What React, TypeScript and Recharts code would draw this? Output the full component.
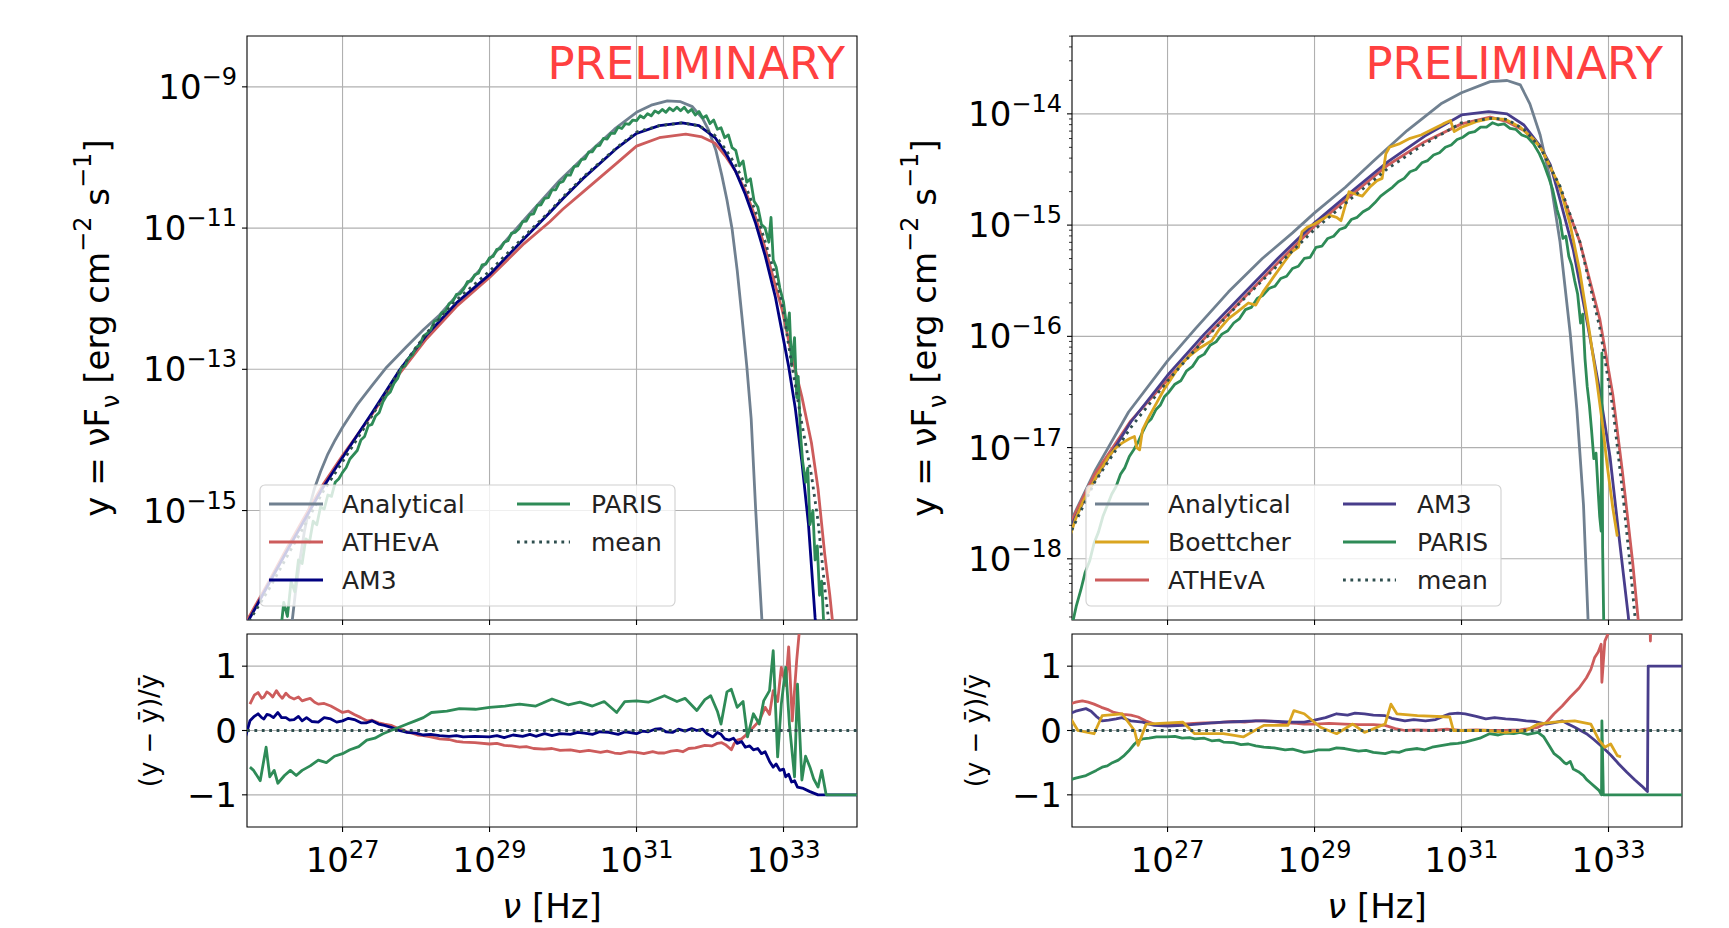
import React from "react";
import { LineChart, Line, XAxis, YAxis, CartesianGrid, ReferenceArea } from "recharts";

// ---- axes (log10 of the plotted quantities) ----
const X_DOMAIN = [25.7, 34.0];
const X_TICKS = [27, 29, 31, 33];
const LEFT_Y_DOMAIN = [-16.55, -8.28];
const LEFT_Y_TICKS = [-15, -13, -11, -9];
const RIGHT_Y_DOMAIN = [-18.55, -13.3];
const RIGHT_Y_MAJOR = [-18, -17, -16, -15, -14];
const RES_DOMAIN = [-1.5, 1.5];
const RES_TICKS = [-1, 0, 1];

// ---- left SED: log10 nu / log10 nuFnu ----
const L_ANA_NU = [26.3, 26.36, 26.42, 26.48, 26.55, 26.62, 26.7, 26.8, 26.9, 27.0, 27.2, 27.4, 27.6, 27.86, 28.1, 28.32, 28.6, 29.0, 29.5, 29.95, 30.3, 30.7, 31.0, 31.2, 31.42, 31.6, 31.76, 31.9, 31.98, 32.08, 32.16, 32.23, 32.3, 32.37, 32.44, 32.5, 32.56, 32.62, 32.67, 32.72];
const L_ANA_Y = [-16.7, -16.15, -15.7, -15.3, -14.95, -14.68, -14.45, -14.2, -14.0, -13.82, -13.5, -13.23, -12.97, -12.69, -12.44, -12.23, -11.9, -11.44, -10.85, -10.33, -9.98, -9.6, -9.36, -9.26, -9.2, -9.21, -9.28, -9.45, -9.61, -9.9, -10.25, -10.6, -11.01, -11.6, -12.31, -12.95, -13.7, -14.96, -15.9, -16.8];

const L_ATH_NU = [25.6, 25.72, 26.0, 26.25, 26.5, 26.73, 27.0, 27.4, 27.77, 28.14, 28.55, 29.0, 29.47, 29.82, 30.0, 30.27, 30.72, 31.0, 31.31, 31.67, 31.89, 32.07, 32.21, 32.35, 32.48, 32.62, 32.75, 32.89, 32.98, 33.11, 33.25, 33.38, 33.47, 33.56, 33.63, 33.7];
const L_ATH_Y = [-16.75, -16.52, -16.0, -15.52, -15.06, -14.64, -14.22, -13.64, -13.07, -12.57, -12.11, -11.7, -11.22, -10.91, -10.73, -10.49, -10.09, -9.84, -9.72, -9.67, -9.71, -9.8, -9.98, -10.2, -10.47, -10.85, -11.28, -11.82, -12.15, -12.79, -13.39, -14.04, -14.69, -15.61, -16.2, -16.9];

const L_AM3_NU = [25.6, 25.74, 26.0, 26.25, 26.5, 26.73, 27.0, 27.4, 27.77, 28.14, 28.55, 29.0, 29.47, 29.82, 30.0, 30.27, 30.72, 31.0, 31.31, 31.62, 31.85, 32.07, 32.21, 32.35, 32.48, 32.62, 32.75, 32.89, 32.98, 33.07, 33.16, 33.25, 33.34, 33.43, 33.48];
const L_AM3_Y = [-16.8, -16.52, -16.03, -15.56, -15.1, -14.68, -14.25, -13.62, -13.02, -12.52, -12.06, -11.66, -11.15, -10.78, -10.58, -10.3, -9.88, -9.66, -9.55, -9.51, -9.55, -9.72, -9.93, -10.2, -10.52, -10.93, -11.39, -11.98, -12.47, -12.96, -13.55, -14.31, -15.2, -16.52, -17.0];

const L_PARIS_NU = [26.15, 26.2, 26.25, 26.3, 26.35, 26.4, 26.45, 26.5, 26.55, 26.6, 26.65, 26.7, 26.75, 26.8, 26.85, 26.9, 26.95, 27.0, 27.05, 27.1, 27.15, 27.2, 27.25, 27.3, 27.35, 27.4, 27.45, 27.5, 27.55, 27.6, 27.65, 27.7, 27.75, 27.8, 27.85, 27.9, 27.95, 28.0, 28.05, 28.1, 28.15, 28.2, 28.25, 28.3, 28.35, 28.4, 28.45, 28.5, 28.55, 28.6, 28.65, 28.7, 28.75, 28.8, 28.85, 28.9, 28.95, 29.0, 29.05, 29.1, 29.15, 29.2, 29.25, 29.3, 29.35, 29.4, 29.45, 29.5, 29.55, 29.6, 29.65, 29.7, 29.75, 29.8, 29.85, 29.9, 29.95, 30.0, 30.05, 30.1, 30.15, 30.2, 30.25, 30.3, 30.35, 30.4, 30.45, 30.5, 30.55, 30.6, 30.65, 30.7, 30.75, 30.8, 30.85, 30.9, 30.95, 31.0, 31.05, 31.1, 31.15, 31.2, 31.25, 31.3, 31.35, 31.4, 31.45, 31.5, 31.55, 31.6, 31.65, 31.7, 31.75, 31.8, 31.85, 31.9, 31.95, 32.0, 32.05, 32.1, 32.15, 32.2, 32.25, 32.3, 32.35, 32.4, 32.45, 32.5, 32.55, 32.6, 32.65, 32.7, 32.75, 32.8, 32.83, 32.86, 32.9, 32.95, 33.0, 33.05, 33.08, 33.11, 33.15, 33.18, 33.2, 33.23, 33.26, 33.3, 33.33, 33.36, 33.4, 33.43, 33.46, 33.49, 33.52, 33.56];
const L_PARIS_Y = [-16.8, -16.3, -16.5, -16.0, -16.15, -15.7, -15.75, -15.4, -15.45, -15.15, -15.2, -14.95, -14.98, -14.78, -14.8, -14.6, -14.55, -14.46, -14.39, -14.27, -14.21, -14.15, -14.0, -13.95, -13.8, -13.78, -13.66, -13.61, -13.46, -13.37, -13.32, -13.2, -13.13, -12.98, -12.95, -12.84, -12.8, -12.69, -12.66, -12.53, -12.49, -12.44, -12.32, -12.3, -12.2, -12.18, -12.07, -12.04, -11.94, -11.93, -11.86, -11.76, -11.75, -11.66, -11.64, -11.52, -11.51, -11.42, -11.4, -11.3, -11.29, -11.2, -11.18, -11.07, -11.06, -11.01, -10.91, -10.9, -10.81, -10.8, -10.68, -10.67, -10.58, -10.57, -10.46, -10.46, -10.36, -10.34, -10.25, -10.25, -10.13, -10.12, -10.03, -10.02, -9.92, -9.92, -9.84, -9.83, -9.73, -9.74, -9.66, -9.66, -9.57, -9.59, -9.52, -9.53, -9.47, -9.48, -9.41, -9.44, -9.38, -9.41, -9.34, -9.37, -9.32, -9.36, -9.3, -9.34, -9.29, -9.34, -9.29, -9.36, -9.32, -9.4, -9.35, -9.44, -9.41, -9.52, -9.47, -9.6, -9.58, -9.72, -9.68, -9.86, -9.9, -10.12, -10.05, -10.35, -10.3, -10.62, -10.7, -10.95, -11.0, -11.2, -10.85, -11.45, -11.55, -11.85, -12.05, -12.45, -12.2, -12.95, -12.55, -13.4, -13.1, -13.9, -14.3, -14.6, -14.4, -15.2, -15.0, -15.7, -15.5, -16.2, -16.0, -16.9];

const L_MEAN_NU = [25.6, 25.72, 26.0, 26.25, 26.5, 26.73, 27.0, 27.4, 27.77, 28.14, 28.55, 29.0, 29.47, 29.82, 30.0, 30.27, 30.72, 31.0, 31.31, 31.62, 31.85, 32.07, 32.21, 32.35, 32.48, 32.62, 32.75, 32.89, 32.98, 33.11, 33.25, 33.38, 33.47, 33.56, 33.62, 33.66];
const L_MEAN_Y = [-16.85, -16.58, -16.11, -15.64, -15.18, -14.74, -14.31, -13.66, -13.02, -12.49, -12.02, -11.61, -11.12, -10.76, -10.56, -10.28, -9.87, -9.64, -9.55, -9.51, -9.55, -9.69, -9.88, -10.11, -10.39, -10.77, -11.19, -11.68, -12.07, -12.92, -13.77, -14.5, -15.15, -16.08, -16.6, -17.0];

// ---- right SED ----
const R_ANA_NU = [25.6, 25.67, 26.02, 26.47, 27.0, 27.38, 27.83, 28.29, 28.7, 29.0, 29.42, 29.81, 30.26, 30.72, 31.0, 31.39, 31.62, 31.8, 31.93, 32.07, 32.21, 32.34, 32.48, 32.57, 32.66, 32.72, 32.76];
const R_ANA_Y = [-17.95, -17.68, -17.2, -16.68, -16.22, -15.93, -15.6, -15.3, -15.07, -14.89, -14.66, -14.42, -14.15, -13.91, -13.81, -13.71, -13.7, -13.74, -13.91, -14.19, -14.6, -15.15, -15.98, -16.66, -17.52, -18.52, -19.2];

const R_BOE_NU = [25.67, 25.75, 25.84, 25.95, 26.05, 26.11, 26.2, 26.3, 26.38, 26.48, 26.55, 26.58, 26.62, 26.66, 26.75, 26.85, 26.95, 27.05, 27.15, 27.29, 27.45, 27.6, 27.7, 27.83, 27.95, 28.1, 28.2, 28.3, 28.46, 28.6, 28.69, 28.78, 28.83, 28.9, 29.0, 29.1, 29.2, 29.3, 29.36, 29.42, 29.47, 29.55, 29.65, 29.75, 29.85, 29.92, 29.97, 30.02, 30.15, 30.3, 30.45, 30.6, 30.75, 30.85, 30.9, 31.0, 31.2, 31.4, 31.6, 31.8, 32.0, 32.1, 32.21, 32.34, 32.48, 32.61, 32.75, 32.84, 32.92, 32.98, 33.06, 33.12];
const R_BOE_Y = [-17.8, -17.64, -17.5, -17.36, -17.24, -17.18, -17.08, -17.0, -16.96, -16.92, -16.9, -17.0, -17.02, -16.84, -16.72, -16.6, -16.48, -16.38, -16.28, -16.18, -16.1, -16.04, -15.94, -15.84, -15.78, -15.7, -15.72, -15.6, -15.45, -15.32, -15.24, -15.2, -15.06, -15.02, -14.99, -14.95, -14.91, -14.93, -14.96, -14.82, -14.7, -14.72, -14.74, -14.66, -14.6, -14.58, -14.36, -14.3, -14.27, -14.22, -14.19, -14.14, -14.09, -14.06, -14.16, -14.12, -14.07, -14.04, -14.05, -14.12, -14.24, -14.33, -14.48, -14.66, -15.0, -15.42, -16.0, -16.4, -16.8, -17.15, -17.55, -17.8];

const R_ATH_NU = [25.6, 25.67, 26.0, 26.5, 27.0, 27.5, 28.0, 28.5, 29.0, 29.5, 30.0, 30.5, 31.0, 31.39, 31.62, 31.85, 32.07, 32.34, 32.61, 32.88, 33.06, 33.19, 33.33, 33.4, 33.45];
const R_ATH_Y = [-17.9, -17.69, -17.25, -16.76, -16.39, -16.02, -15.68, -15.34, -15.01, -14.73, -14.46, -14.25, -14.09, -14.03, -14.07, -14.15, -14.29, -14.67, -15.15, -15.84, -16.53, -17.22, -18.04, -18.52, -18.9];

const R_AM3_NU = [25.6, 25.67, 26.0, 26.5, 27.0, 27.5, 28.0, 28.5, 29.0, 29.5, 30.0, 30.5, 31.0, 31.37, 31.62, 31.85, 32.07, 32.21, 32.34, 32.52, 32.7, 32.88, 33.02, 33.15, 33.27, 33.32];
const R_AM3_Y = [-17.95, -17.73, -17.3, -16.77, -16.35, -15.98, -15.64, -15.3, -14.98, -14.7, -14.43, -14.2, -14.01, -13.98, -14.0, -14.1, -14.29, -14.46, -14.77, -15.22, -15.84, -16.49, -17.08, -17.84, -18.52, -18.9];

const R_PARIS_NU = [25.7, 25.76, 25.82, 25.88, 25.94, 26.0, 26.06, 26.12, 26.18, 26.24, 26.3, 26.36, 26.42, 26.48, 26.54, 26.6, 26.66, 26.72, 26.78, 26.84, 26.9, 26.96, 27.02, 27.1, 27.18, 27.26, 27.34, 27.42, 27.5, 27.58, 27.66, 27.74, 27.82, 27.9, 27.98, 28.06, 28.14, 28.22, 28.3, 28.38, 28.46, 28.54, 28.62, 28.7, 28.78, 28.86, 28.94, 29.02, 29.1, 29.18, 29.26, 29.34, 29.42, 29.5, 29.58, 29.66, 29.74, 29.82, 29.9, 29.98, 30.06, 30.14, 30.22, 30.3, 30.38, 30.46, 30.54, 30.62, 30.7, 30.78, 30.86, 30.94, 31.02, 31.1, 31.18, 31.26, 31.34, 31.42, 31.5, 31.58, 31.66, 31.74, 31.82, 31.9, 31.98, 32.06, 32.12, 32.18, 32.24, 32.3, 32.34, 32.38, 32.42, 32.46, 32.5, 32.54, 32.58, 32.62, 32.65, 32.68, 32.71, 32.74, 32.77, 32.8, 32.83, 32.86, 32.88, 32.9, 32.91, 32.92, 32.94];
const R_PARIS_Y = [-18.6, -18.42, -18.28, -18.12, -18.02, -17.86, -17.76, -17.62, -17.52, -17.42, -17.35, -17.24, -17.18, -17.08, -17.02, -16.95, -16.86, -16.78, -16.74, -16.66, -16.62, -16.54, -16.5, -16.43, -16.4, -16.31, -16.27, -16.19, -16.16, -16.08, -16.05, -15.98, -15.95, -15.88, -15.84, -15.76, -15.74, -15.66, -15.63, -15.57, -15.55, -15.48, -15.46, -15.39, -15.37, -15.3, -15.29, -15.2, -15.19, -15.12, -15.1, -15.04, -15.02, -14.95, -14.93, -14.88, -14.85, -14.8, -14.74, -14.7, -14.66, -14.61, -14.58, -14.52, -14.5, -14.44, -14.42, -14.37, -14.35, -14.3, -14.28, -14.23, -14.21, -14.17, -14.16, -14.12, -14.12, -14.08, -14.1, -14.09, -14.13, -14.14, -14.19, -14.21, -14.27, -14.36, -14.45, -14.56, -14.68, -14.86, -14.95, -15.12, -15.1, -15.28, -15.36, -15.5, -15.62, -15.88, -15.8, -16.2, -16.45, -16.62, -16.85, -17.1, -17.05, -17.4, -17.62, -17.75, -16.15, -17.9, -18.8];

const R_MEAN_NU = [25.6, 25.67, 26.0, 26.5, 27.0, 27.5, 28.0, 28.5, 29.0, 29.5, 30.0, 30.5, 31.0, 31.4, 31.62, 31.85, 32.07, 32.34, 32.61, 32.88, 33.06, 33.2, 33.3, 33.36, 33.42];
const R_MEAN_Y = [-18.0, -17.78, -17.32, -16.82, -16.4, -16.03, -15.69, -15.36, -15.04, -14.76, -14.49, -14.27, -14.08, -14.04, -14.05, -14.14, -14.3, -14.65, -15.15, -15.92, -16.65, -17.45, -18.1, -18.52, -18.9];

// ---- left residuals (y - mean)/mean ----
const LR_ATH_NU = [25.74, 25.8, 25.85, 25.9, 25.93, 25.97, 26.01, 26.05, 26.1, 26.14, 26.18, 26.23, 26.28, 26.34, 26.4, 26.45, 26.5, 26.56, 26.62, 26.67, 26.75, 26.84, 26.92, 27.0, 27.08, 27.16, 27.25, 27.33, 27.4, 27.49, 27.57, 27.66, 27.72, 27.77, 27.83, 27.88, 27.95, 28.02, 28.1, 28.2, 28.32, 28.45, 28.55, 28.64, 28.8, 29.0, 29.1, 29.2, 29.3, 29.41, 29.5, 29.6, 29.74, 29.85, 29.96, 30.1, 30.23, 30.35, 30.51, 30.6, 30.7, 30.78, 30.9, 31.0, 31.1, 31.22, 31.3, 31.38, 31.47, 31.55, 31.63, 31.71, 31.8, 31.93, 32.02, 32.1, 32.16, 32.21, 32.29, 32.33, 32.37, 32.43, 32.48, 32.59, 32.67, 32.75, 32.81, 32.86, 32.92, 32.97, 33.03, 33.07, 33.12, 33.18, 33.22, 33.27, 33.36];
const LR_ATH_Y = [0.41, 0.55, 0.59, 0.5, 0.52, 0.6, 0.57, 0.52, 0.62, 0.55, 0.5, 0.58, 0.52, 0.49, 0.52, 0.46, 0.48, 0.5, 0.44, 0.41, 0.42, 0.38, 0.33, 0.28, 0.3, 0.25, 0.2, 0.15, 0.16, 0.12, 0.1, 0.08, 0.05, 0.02, 0.01, -0.03, -0.04, -0.07, -0.08, -0.1, -0.13, -0.14, -0.17, -0.18, -0.19, -0.21, -0.2, -0.23, -0.24, -0.26, -0.25, -0.28, -0.29, -0.28, -0.31, -0.3, -0.33, -0.31, -0.34, -0.32, -0.35, -0.36, -0.33, -0.34, -0.36, -0.33, -0.35, -0.35, -0.32, -0.31, -0.33, -0.28, -0.27, -0.23, -0.24, -0.2, -0.19, -0.22, -0.3, -0.2, -0.15, -0.13, -0.08, 0.05, 0.15, 0.36, 0.25, 0.62, 0.45, 0.98, 0.7, 1.3, 0.15, 1.1, 1.6, 2.0, 2.5];

const LR_AM3_NU = [25.68, 25.74, 25.8, 25.85, 25.9, 25.93, 25.97, 26.01, 26.06, 26.12, 26.17, 26.23, 26.28, 26.34, 26.4, 26.45, 26.51, 26.58, 26.67, 26.75, 26.84, 26.92, 27.0, 27.08, 27.16, 27.25, 27.33, 27.4, 27.49, 27.57, 27.66, 27.77, 27.88, 28.0, 28.1, 28.2, 28.32, 28.45, 28.55, 28.64, 28.8, 29.0, 29.1, 29.2, 29.32, 29.45, 29.55, 29.63, 29.75, 29.85, 29.96, 30.1, 30.2, 30.29, 30.4, 30.5, 30.62, 30.75, 30.85, 31.0, 31.08, 31.16, 31.25, 31.33, 31.4, 31.49, 31.57, 31.66, 31.75, 31.82, 31.9, 31.96, 32.04, 32.1, 32.15, 32.2, 32.26, 32.32, 32.37, 32.43, 32.48, 32.54, 32.59, 32.65, 32.7, 32.75, 32.81, 32.86, 32.9, 32.95, 33.0, 33.03, 33.07, 33.11, 33.15, 33.19, 33.27, 33.36, 33.47, 34.0];
const LR_AM3_Y = [-0.1, 0.15, 0.22, 0.26, 0.2, 0.18, 0.25, 0.24, 0.2, 0.28, 0.2, 0.2, 0.16, 0.17, 0.22, 0.15, 0.2, 0.14, 0.13, 0.2, 0.18, 0.13, 0.15, 0.19, 0.17, 0.12, 0.12, 0.15, 0.1, 0.08, 0.05, 0.0, -0.03, -0.04, -0.07, -0.06, -0.08, -0.09, -0.08, -0.1, -0.09, -0.1, -0.08, -0.11, -0.07, -0.09, -0.06, -0.09, -0.05, -0.08, -0.05, -0.06, -0.03, -0.04, -0.06, -0.02, -0.03, -0.06, -0.02, -0.05, -0.01, -0.02, 0.02, 0.03, -0.02, -0.03, 0.02, -0.01, 0.03, 0.0, 0.02, -0.05, -0.1, -0.03, -0.06, -0.13, -0.15, -0.12, -0.2, -0.17, -0.26, -0.24, -0.3, -0.28, -0.36, -0.33, -0.48, -0.57, -0.52, -0.62, -0.6, -0.72, -0.68, -0.8, -0.78, -0.88, -0.9, -0.95, -1.0, -1.0];

const LR_PARIS_NU = [25.74, 25.79, 25.88, 25.96, 26.01, 26.07, 26.12, 26.21, 26.29, 26.37, 26.45, 26.56, 26.67, 26.78, 26.89, 27.0, 27.1, 27.22, 27.33, 27.44, 27.55, 27.66, 27.77, 27.88, 27.99, 28.1, 28.21, 28.42, 28.59, 28.81, 29.0, 29.21, 29.41, 29.63, 29.85, 30.07, 30.23, 30.4, 30.56, 30.73, 30.84, 31.0, 31.16, 31.38, 31.55, 31.66, 31.82, 31.93, 32.01, 32.1, 32.15, 32.23, 32.29, 32.37, 32.45, 32.51, 32.59, 32.67, 32.73, 32.81, 32.86, 32.92, 32.97, 33.03, 33.08, 33.15, 33.19, 33.25, 33.3, 33.36, 33.41, 33.47, 33.52, 33.58, 34.0];
const LR_PARIS_Y = [-0.57, -0.62, -0.78, -0.26, -0.72, -0.62, -0.82, -0.7, -0.62, -0.7, -0.62, -0.55, -0.46, -0.5, -0.4, -0.36, -0.3, -0.25, -0.15, -0.12, -0.05, 0.0, 0.05, 0.1, 0.15, 0.2, 0.28, 0.3, 0.34, 0.33, 0.36, 0.38, 0.41, 0.38, 0.49, 0.4, 0.44, 0.38, 0.45, 0.28, 0.45, 0.46, 0.44, 0.54, 0.45, 0.5, 0.31, 0.48, 0.54, 0.3, 0.1, 0.6, 0.64, 0.36, 0.45, -0.1, 0.26, 0.1, 0.46, 0.62, 1.24, -0.41, 0.41, 0.98, 0.1, -0.72, 0.72, -0.77, -0.4, -0.57, -0.75, -0.88, -0.62, -1.0, -1.0];

// ---- right residuals ----
const RR_ATH_NU = [25.67, 25.75, 25.84, 25.92, 26.0, 26.1, 26.2, 26.27, 26.4, 26.5, 26.6, 26.7, 26.82, 26.95, 27.1, 27.21, 27.35, 27.5, 27.65, 27.76, 27.9, 28.05, 28.2, 28.31, 28.45, 28.6, 28.75, 28.86, 29.0, 29.2, 29.41, 29.6, 29.8, 29.96, 30.1, 30.23, 30.4, 30.6, 30.8, 31.0, 31.2, 31.4, 31.6, 31.8, 32.04, 32.15, 32.26, 32.37, 32.48, 32.6, 32.7, 32.76, 32.81, 32.86, 32.9, 32.91, 32.95, 33.03, 33.14, 33.55, 33.57, 33.59];
const RR_ATH_Y = [0.41, 0.44, 0.46, 0.44, 0.41, 0.36, 0.32, 0.28, 0.25, 0.24, 0.21, 0.15, 0.1, 0.09, 0.1, 0.1, 0.11, 0.12, 0.12, 0.13, 0.14, 0.13, 0.15, 0.15, 0.14, 0.12, 0.11, 0.1, 0.1, 0.11, 0.1, 0.09, 0.09, 0.08, 0.03, 0.0, 0.01, 0.0, 0.02, 0.0, 0.01, 0.0, 0.0, 0.01, 0.05, 0.12, 0.26, 0.38, 0.52, 0.66, 0.82, 0.95, 1.13, 1.22, 1.34, 0.75, 1.39, 1.6, 2.2, 2.5, 1.39, 2.5];

const RR_BOE_NU = [25.67, 25.78, 26.0, 26.11, 26.38, 26.55, 26.6, 26.71, 27.21, 27.37, 27.76, 28.03, 28.31, 28.64, 28.72, 28.86, 29.08, 29.3, 29.52, 29.68, 29.96, 30.04, 30.12, 30.4, 30.84, 30.89, 31.33, 31.6, 31.88, 32.04, 32.26, 32.54, 32.76, 32.87, 32.95, 33.03, 33.12, 33.17];
const RR_BOE_Y = [0.21, 0.0, -0.05, 0.23, 0.26, 0.0, -0.23, 0.1, 0.13, -0.05, -0.05, -0.1, 0.08, 0.08, 0.31, 0.26, 0.05, -0.05, 0.1, -0.03, 0.1, 0.41, 0.26, 0.23, 0.21, 0.0, 0.0, -0.03, 0.0, 0.1, 0.13, 0.15, 0.1, -0.15, -0.26, -0.21, -0.39, -0.41];

const RR_AM3_NU = [25.67, 25.75, 25.82, 25.89, 25.96, 26.03, 26.11, 26.2, 26.3, 26.38, 26.5, 26.66, 26.75, 26.82, 27.0, 27.21, 27.4, 27.6, 27.76, 28.0, 28.2, 28.31, 28.5, 28.7, 28.86, 29.0, 29.15, 29.3, 29.45, 29.55, 29.68, 29.8, 29.96, 30.05, 30.23, 30.35, 30.51, 30.65, 30.75, 30.84, 30.95, 31.05, 31.2, 31.33, 31.45, 31.6, 31.75, 31.88, 32.0, 32.15, 32.25, 32.37, 32.45, 32.54, 32.62, 32.7, 32.8, 32.92, 33.03, 33.14, 33.25, 33.36, 33.45, 33.53, 33.54, 34.0];
const RR_AM3_Y = [0.26, 0.3, 0.32, 0.34, 0.3, 0.22, 0.15, 0.16, 0.18, 0.2, 0.15, 0.13, 0.1, 0.08, 0.07, 0.08, 0.1, 0.12, 0.13, 0.14, 0.15, 0.15, 0.14, 0.13, 0.13, 0.16, 0.2, 0.26, 0.24, 0.27, 0.26, 0.24, 0.23, 0.19, 0.15, 0.17, 0.15, 0.17, 0.22, 0.26, 0.27, 0.26, 0.22, 0.18, 0.2, 0.18, 0.17, 0.15, 0.14, 0.1, 0.12, 0.15, 0.1, 0.05, 0.0, -0.05, -0.14, -0.26, -0.38, -0.52, -0.65, -0.77, -0.86, -0.95, 1.0, 1.0];

const RR_PARIS_NU = [25.67, 25.75, 25.82, 25.89, 25.96, 26.03, 26.11, 26.18, 26.25, 26.33, 26.4, 26.47, 26.55, 26.6, 26.66, 26.75, 26.85, 26.99, 27.1, 27.2, 27.3, 27.37, 27.5, 27.6, 27.7, 27.76, 27.9, 28.0, 28.1, 28.2, 28.31, 28.45, 28.6, 28.7, 28.86, 28.95, 29.05, 29.2, 29.3, 29.41, 29.5, 29.6, 29.7, 29.8, 29.96, 30.05, 30.15, 30.25, 30.4, 30.5, 30.6, 30.7, 30.84, 30.95, 31.05, 31.15, 31.25, 31.38, 31.5, 31.6, 31.71, 31.8, 31.9, 32.04, 32.12, 32.2, 32.26, 32.33, 32.4, 32.43, 32.48, 32.52, 32.59, 32.66, 32.7, 32.76, 32.82, 32.87, 32.905, 32.91, 32.93, 34.0];
const RR_PARIS_Y = [-0.77, -0.74, -0.72, -0.7, -0.66, -0.62, -0.57, -0.55, -0.5, -0.46, -0.4, -0.32, -0.21, -0.16, -0.13, -0.12, -0.1, -0.1, -0.09, -0.12, -0.11, -0.13, -0.12, -0.16, -0.15, -0.18, -0.19, -0.22, -0.21, -0.24, -0.26, -0.27, -0.3, -0.29, -0.34, -0.33, -0.3, -0.3, -0.27, -0.28, -0.3, -0.32, -0.31, -0.34, -0.36, -0.33, -0.34, -0.3, -0.28, -0.3, -0.26, -0.24, -0.21, -0.2, -0.18, -0.15, -0.12, -0.05, -0.07, -0.04, -0.05, -0.03, -0.06, -0.03, -0.1, -0.25, -0.36, -0.42, -0.5, -0.52, -0.48, -0.6, -0.64, -0.7, -0.76, -0.82, -0.88, -0.93, -1.0, 0.15, -1.0, -1.0];

const RES_MEAN_NU = [25.7, 34.0];
const RES_MEAN_Y = [0, 0];

// ---- styling ----
const FONT = "'DejaVu Sans', 'Liberation Sans', sans-serif";
const C_ANA = "#708090";
const C_ATH = "#cd5c5c";
const C_AM3_L = "#000080";
const C_AM3_R = "#483d8b";
const C_PARIS = "#2e8b57";
const C_BOE = "#daa520";
const C_MEAN = "#2f4f4f";
const LW = 2.8;
const TICK_FS = 34;
const SUP_FS = 24;

const pts = (xs: number[], ys: number[]) => xs.map((x, i) => ({ x, y: ys[i] }));
const isMajor = (v: number) => Math.abs(v - Math.round(v)) < 1e-6;
const fmtExp = (e: number) => (e < 0 ? `\u2212${-e}` : `${e}`);

const RIGHT_MINOR: number[] = [];
for (let n = -19; n <= -14; n++) {
  for (let k = 2; k <= 9; k++) {
    const v = n + Math.log10(k);
    if (v > RIGHT_Y_DOMAIN[0] && v < RIGHT_Y_DOMAIN[1]) RIGHT_MINOR.push(v);
  }
}

type Series = { data: { x: number; y: number }[]; color: string; dotted?: boolean };

function YTick(props: any) {
  const { x, y, payload, kind } = props;
  const v = payload.value;
  if (!isMajor(v)) {
    return <line x1={x - 3} x2={x} y1={y} y2={y} stroke="#000" strokeWidth={0.8} />;
  }
  return (
    <g>
      <line x1={x - 5} x2={x} y1={y} y2={y} stroke="#000" strokeWidth={1.1} />
      {kind === "log" ? (
        <text x={x - 10} y={y + 12} textAnchor="end" fontFamily={FONT} fill="#000">
          <tspan fontSize={TICK_FS}>10</tspan>
          <tspan fontSize={SUP_FS} dy={-14}>{fmtExp(v)}</tspan>
        </text>
      ) : (
        <text x={x - 10} y={y + 12} textAnchor="end" fontFamily={FONT} fontSize={TICK_FS} fill="#000">
          {v < 0 ? `\u2212${-v}` : `${v}`}
        </text>
      )}
    </g>
  );
}

function XTick(props: any) {
  const { x, y, payload, labels } = props;
  return (
    <g>
      <line x1={x} x2={x} y1={y} y2={y + 5} stroke="#000" strokeWidth={1.1} />
      {labels && (
        <text x={x} y={y + 45} textAnchor="middle" fontFamily={FONT} fill="#000">
          <tspan fontSize={TICK_FS}>10</tspan>
          <tspan fontSize={SUP_FS} dy={-14}>{fmtExp(payload.value)}</tspan>
        </text>
      )}
    </g>
  );
}

const YW = 150;
const MT = 10;
const MR = 10;

function Panel(props: {
  left: number; top: number; w: number; h: number;
  yDomain: number[]; yTicks: number[]; gridY: number[];
  kind: "log" | "lin"; xLabels: boolean; series: Series[];
}) {
  const { left, top, w, h, yDomain, yTicks, gridY, kind, xLabels, series } = props;
  const XH = xLabels ? 70 : 10;
  return (
    <LineChart
      width={YW + w + MR}
      height={MT + h + XH}
      margin={{ top: MT, right: MR, bottom: 0, left: 0 }}
      style={{ position: "absolute", left: left - YW, top: top - MT }}
    >
      <CartesianGrid stroke="#b0b0b0" strokeWidth={1.1} horizontalValues={gridY} verticalValues={X_TICKS} />
      <XAxis
        type="number" dataKey="x" domain={X_DOMAIN} ticks={X_TICKS} allowDataOverflow
        axisLine={false} tickLine={false} tickSize={0} tickMargin={0} height={XH} interval={0}
        tick={(p: any) => <XTick {...p} labels={xLabels} />}
      />
      <YAxis
        type="number" domain={yDomain} ticks={yTicks} allowDataOverflow
        axisLine={false} tickLine={false} tickSize={0} tickMargin={0} width={YW} interval={0}
        tick={(p: any) => <YTick {...p} kind={kind} />}
      />
      {series.map((s, i) => (
        <Line
          key={i} data={s.data} dataKey="y" type="linear" stroke={s.color} strokeWidth={LW}
          strokeDasharray={s.dotted ? "2.8 4.6" : undefined} dot={false} activeDot={false}
          isAnimationActive={false} strokeLinejoin="round"
        />
      ))}
      <ReferenceArea
        x1={X_DOMAIN[0]} x2={X_DOMAIN[1]} y1={yDomain[0]} y2={yDomain[1]}
        fill="none" fillOpacity={0} stroke="#000" strokeWidth={1.1} ifOverflow="visible"
      />
    </LineChart>
  );
}

function Legend({ x, rows }: { x: number; rows: { label: string; color: string; dotted?: boolean }[][] }) {
  const colX = [[x + 9, x + 63, x + 82], [x + 257, x + 310, x + 331]];
  const rowY = [504, 542, 580];
  return (
    <g>
      <rect x={x} y={485} width={415} height={121} rx={5} fill="#fff" fillOpacity={0.8} stroke="#d0d0d0" strokeWidth={1.1} />
      {rows.map((col, ci) =>
        col.map((r, ri) => (
          <g key={`${ci}-${ri}`}>
            <line
              x1={colX[ci][0]} x2={colX[ci][1]} y1={rowY[ri]} y2={rowY[ri]} stroke={r.color} strokeWidth={LW}
              strokeDasharray={r.dotted ? "2.8 4.6" : undefined}
            />
            <text x={colX[ci][2]} y={rowY[ri] + 9} fontFamily={FONT} fontSize={25} fill="#222">{r.label}</text>
          </g>
        ))
      )}
    </g>
  );
}

export default function App() {
  const LX = 247, RX = 1072, PW = 610;
  const TY = 36, TH = 584, BY = 634, BH = 193;

  const leftTop: Series[] = [
    { data: pts(L_ANA_NU, L_ANA_Y), color: C_ANA },
    { data: pts(L_ATH_NU, L_ATH_Y), color: C_ATH },
    { data: pts(L_AM3_NU, L_AM3_Y), color: C_AM3_L },
    { data: pts(L_PARIS_NU, L_PARIS_Y), color: C_PARIS },
    { data: pts(L_MEAN_NU, L_MEAN_Y), color: C_MEAN, dotted: true },
  ];
  const rightTop: Series[] = [
    { data: pts(R_ANA_NU, R_ANA_Y), color: C_ANA },
    { data: pts(R_ATH_NU, R_ATH_Y), color: C_ATH },
    { data: pts(R_AM3_NU, R_AM3_Y), color: C_AM3_R },
    { data: pts(R_PARIS_NU, R_PARIS_Y), color: C_PARIS },
    { data: pts(R_BOE_NU, R_BOE_Y), color: C_BOE },
    { data: pts(R_MEAN_NU, R_MEAN_Y), color: C_MEAN, dotted: true },
  ];
  const leftRes: Series[] = [
    { data: pts(LR_ATH_NU, LR_ATH_Y), color: C_ATH },
    { data: pts(LR_AM3_NU, LR_AM3_Y), color: C_AM3_L },
    { data: pts(LR_PARIS_NU, LR_PARIS_Y), color: C_PARIS },
    { data: pts(RES_MEAN_NU, RES_MEAN_Y), color: C_MEAN, dotted: true },
  ];
  const rightRes: Series[] = [
    { data: pts(RR_ATH_NU, RR_ATH_Y), color: C_ATH },
    { data: pts(RR_AM3_NU, RR_AM3_Y), color: C_AM3_R },
    { data: pts(RR_PARIS_NU, RR_PARIS_Y), color: C_PARIS },
    { data: pts(RR_BOE_NU, RR_BOE_Y), color: C_BOE },
    { data: pts(RES_MEAN_NU, RES_MEAN_Y), color: C_MEAN, dotted: true },
  ];

  const yLabel = (cx: number) => (
    <text x={cx} y={TY + TH / 2} transform={`rotate(-90 ${cx} ${TY + TH / 2})`} textAnchor="middle"
      dominantBaseline="central" fontFamily={FONT} fontSize={34} fill="#000">
      y = νF<tspan fontSize={24} baselineShift="sub">ν</tspan> [erg cm<tspan fontSize={24} baselineShift="super">−2</tspan> s<tspan fontSize={24} baselineShift="super">−1</tspan>]
    </text>
  );
  const resLabel = (cx: number) => (
    <text x={cx} y={BY + BH / 2} transform={`rotate(-90 ${cx} ${BY + BH / 2})`} textAnchor="middle"
      dominantBaseline="central" fontFamily={FONT} fontSize={26} fill="#000">
      (y − ȳ)/ȳ
    </text>
  );
  const xLabel = (cx: number) => (
    <text x={cx} y={918} textAnchor="middle" fontFamily={FONT} fontSize={34} fill="#000">
      <tspan fontStyle="italic">ν</tspan> [Hz]
    </text>
  );

  return (
    <div style={{ position: "absolute", left: 0, top: 0, width: 1729, height: 928, background: "#fff", overflow: "hidden" }}>
      <Panel left={LX} top={TY} w={PW} h={TH} yDomain={LEFT_Y_DOMAIN} yTicks={LEFT_Y_TICKS} gridY={LEFT_Y_TICKS} kind="log" xLabels={false} series={leftTop} />
      <Panel left={LX} top={BY} w={PW} h={BH} yDomain={RES_DOMAIN} yTicks={RES_TICKS} gridY={RES_TICKS} kind="lin" xLabels series={leftRes} />
      <Panel left={RX} top={TY} w={PW} h={TH} yDomain={RIGHT_Y_DOMAIN} yTicks={[...RIGHT_Y_MAJOR, ...RIGHT_MINOR]} gridY={RIGHT_Y_MAJOR} kind="log" xLabels={false} series={rightTop} />
      <Panel left={RX} top={BY} w={PW} h={BH} yDomain={RES_DOMAIN} yTicks={RES_TICKS} gridY={RES_TICKS} kind="lin" xLabels series={rightRes} />
      <svg width={1729} height={928} style={{ position: "absolute", left: 0, top: 0, pointerEvents: "none" }}>
        <Legend x={260} rows={[
          [{ label: "Analytical", color: C_ANA }, { label: "ATHEvA", color: C_ATH }, { label: "AM3", color: C_AM3_L }],
          [{ label: "PARIS", color: C_PARIS }, { label: "mean", color: C_MEAN, dotted: true }],
        ]} />
        <Legend x={1086} rows={[
          [{ label: "Analytical", color: C_ANA }, { label: "Boettcher", color: C_BOE }, { label: "ATHEvA", color: C_ATH }],
          [{ label: "AM3", color: C_AM3_R }, { label: "PARIS", color: C_PARIS }, { label: "mean", color: C_MEAN, dotted: true }],
        ]} />
        <text x={845} y={79} textAnchor="end" fontFamily={FONT} fontSize={45} fill="#ff4040">PRELIMINARY</text>
        <text x={1663} y={79} textAnchor="end" fontFamily={FONT} fontSize={45} fill="#ff4040">PRELIMINARY</text>
        {yLabel(97)}
        {yLabel(924)}
        {resLabel(149)}
        {resLabel(975)}
        {xLabel(LX + PW / 2)}
        {xLabel(RX + PW / 2)}
      </svg>
    </div>
  );
}
